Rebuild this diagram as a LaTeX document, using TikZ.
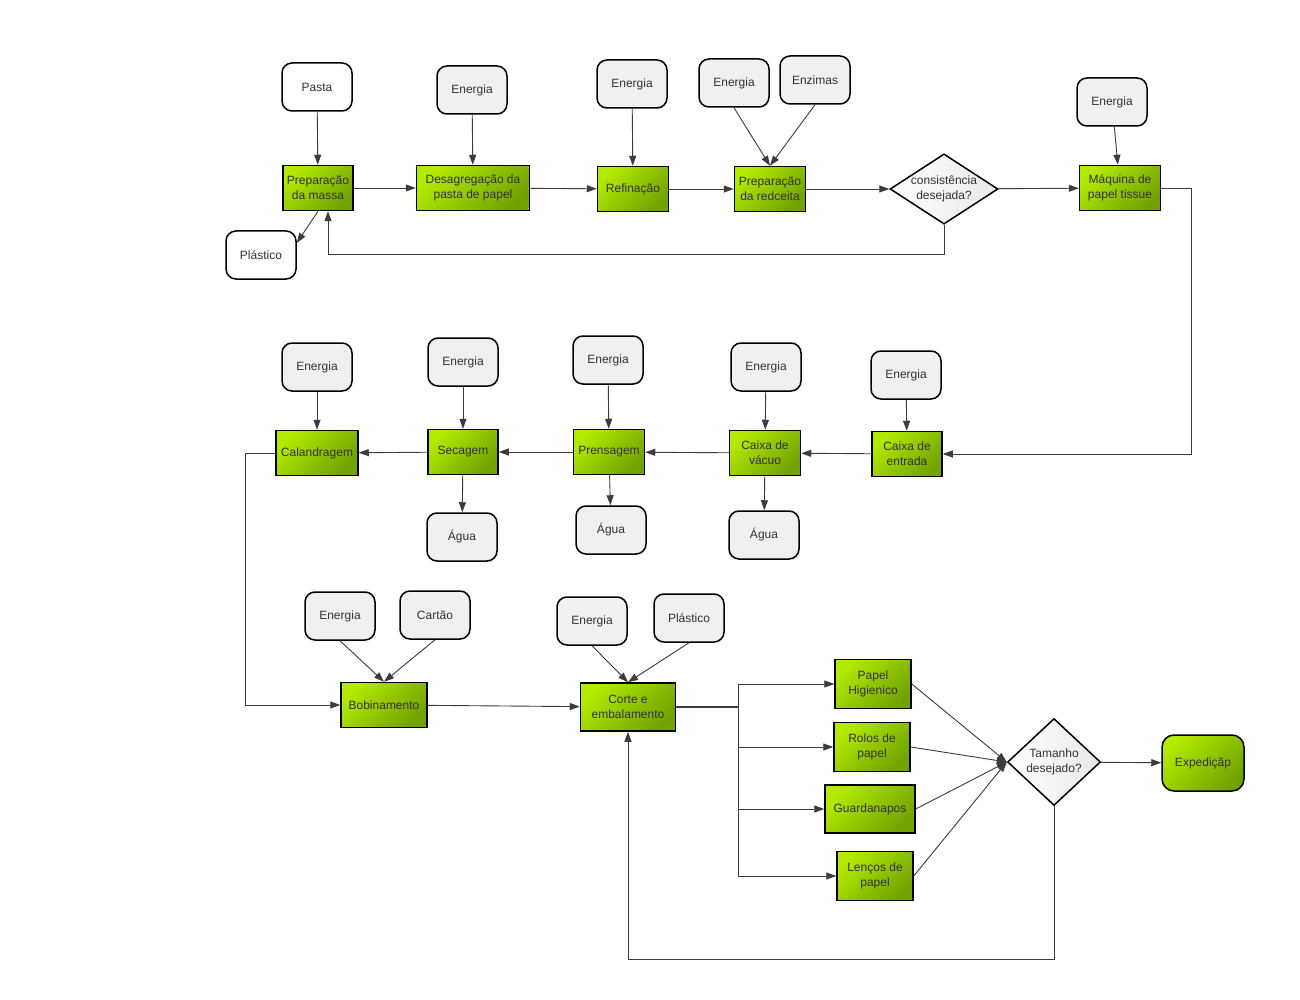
\documentclass[tikz,border=0pt]{standalone}
\usepackage{fontspec}
\setsansfont{Liberation Sans}
\usetikzlibrary{arrows.meta, shapes.geometric}
\definecolor{procLight}{RGB}{178,234,0}
\definecolor{procDark}{RGB}{114,162,0}
\definecolor{inGray}{RGB}{240,240,240}
\definecolor{txtGray}{RGB}{51,51,51}
\definecolor{lineGray}{RGB}{60,60,60}
\tikzset{
proc/.style={draw=black, line width=1.5pt, left color=procLight, right color=procDark, shading angle=45,
  text=txtGray, align=center, inner sep=1pt, minimum height=45pt},
inp/.style={draw=black, line width=1.5pt, rounded corners=10pt, fill=inGray, text=txtGray,
  minimum width=70pt, minimum height=48pt},
inpw/.style={inp, fill=white},
decis/.style={diamond, draw=black, line width=1.5pt, left color=white, right color=gray!18,
  text=txtGray, align=center, inner sep=0pt},
link/.style={draw=lineGray, line width=0.9pt},
flow/.style={link, -{Triangle[length=10pt,width=7pt]}}
}

\begin{document}
\begin{tikzpicture}[x=1pt, y=-1pt, font=\sffamily\fontsize{12}{15}\selectfont]
	\path[fill=white, use as bounding box] (0,0) rectangle (1300,1000);
	\node[inpw] (pasta) at (317,87) {Pasta};
	\node[inp] (en1) at (472,90) {Energia};
	\node[proc, minimum width=70pt] (prepm) at (318,188) {Preparação\\da massa};
	\node[inpw] (plast1) at (261,255) {Plástico};
	\node[proc, minimum width=113pt] (desag) at (473,188) {Desagregação da\\pasta de papel};
	\node[inp] (en2) at (632,84) {Energia};
	\node[proc, minimum width=71pt] (refin) at (633,189) {Refinação};
	\node[inp] (en3) at (734,83) {Energia};
	\node[inp] (enz) at (815,80) {Enzimas};
	\node[proc, minimum width=71pt] (prepr) at (770,189) {Preparação\\da redceita};
	\node[decis, minimum width=108pt, minimum height=70pt, aspect=1.5] (cons) at (944,189) {consistência\\desejada?};
	\node[inp] (en4) at (1112,102) {Energia};
	\node[proc, minimum width=81pt] (maq) at (1120,188) {Máquina de\\papel tissue};

	\node[inp] (en5) at (317,367) {Energia};
	\node[proc, minimum width=82pt] (cal) at (317,453) {Calandragem};
	\node[inp] (en6) at (463,362) {Energia};
	\node[proc, minimum width=70pt] (sec) at (463,452) {Secagem};
	\node[inp] (ag1) at (462,537) {Água};
	\node[inp] (en7) at (608,360) {Energia};
	\node[proc, minimum width=71pt] (prens) at (609,452) {Prensagem};
	\node[inp] (ag2) at (611,530) {Água};
	\node[inp] (en8) at (766,367) {Energia};
	\node[proc, minimum width=71pt] (vac) at (765,453) {Caixa de\\vácuo};
	\node[inp] (ag3) at (764,535) {Água};
	\node[inp] (en9) at (906,375) {Energia};
	\node[proc, minimum width=70pt] (entr) at (907,454) {Caixa de\\entrada};

	\node[inp] (en10) at (340,616) {Energia};
	\node[inp] (cart) at (435,615) {Cartão};
	\node[proc, minimum width=86pt] (bob) at (384,705) {Bobinamento};
	\node[inp] (en11) at (592,621) {Energia};
	\node[inp] (plast2) at (689,618) {Plástico};
	\node[proc, minimum width=95pt, minimum height=48pt] (corte) at (628,707) {Corte e\\embalamento};
	\node[proc, minimum width=76pt, minimum height=49pt] (papel) at (873,684) {Papel\\Higienico};
	\node[proc, minimum width=76pt, minimum height=49pt] (rolos) at (872,747) {Rolos de\\papel};
	\node[proc, minimum width=90pt, minimum height=48pt] (guard) at (870,809) {Guardanapos};
	\node[proc, minimum width=76pt, minimum height=49pt] (lenc) at (875,876) {Lenços de\\papel};
	\node[decis, minimum width=93pt, minimum height=87pt] (tam) at (1054,762) {Tamanho\\desejado?};
	\node[proc, rounded corners=12pt, minimum width=82pt, minimum height=56pt] (exped) at (1203,763) {Expediçãp};

	\draw[flow] (pasta) -- (prepm);
	\draw[flow] (prepm.south) -- ([yshift=12pt]plast1.east);
	\draw[flow] (prepm) -- (desag);
	\draw[flow] (en1) -- (desag);
	\draw[flow] (desag) -- (refin);
	\draw[flow] (en2) -- (refin);
	\draw[flow] (refin) -- (prepr);
	\draw[flow] (en3.south) -- (prepr.north);
	\draw[flow] (enz.south) -- (prepr.north);
	\draw[flow] (prepr) -- (cons);
	\draw[flow] (cons) -- (maq);
	\draw[flow] (en4) -- (maq);
	\draw[flow] (cons.south) -- ++(0,30) -| ([xshift=10pt]prepm.south);
	\draw[flow] (maq.east) -- ++(30,0) |- (entr.east);

	\draw[flow] (en9) -- (entr);
	\draw[flow] (entr) -- (vac);
	\draw[flow] (en8) -- (vac);
	\draw[flow] (vac) -- (ag3);
	\draw[flow] (vac) -- (prens);
	\draw[flow] (en7) -- (prens);
	\draw[flow] (prens) -- (ag2);
	\draw[flow] (prens) -- (sec);
	\draw[flow] (en6) -- (sec);
	\draw[flow] (sec) -- (ag1);
	\draw[flow] (sec) -- (cal);
	\draw[flow] (en5) -- (cal);
	\draw[flow] (cal.west) -- ++(-30,0) |- (bob.west);

	\draw[flow] (en10.south) -- (bob.north);
	\draw[flow] (cart.south) -- (bob.north);
	\draw[flow] (bob) -- (corte);
	\draw[flow] (en11.south) -- (corte.north);
	\draw[flow] (plast2.south) -- (corte.north);
	\draw[link, line width=1.3pt] (corte.east) -- ++(62,0) coordinate (split);
	\draw[flow] (split) |- (papel.west);
	\draw[flow] (split) |- (rolos.west);
	\draw[flow] (split) |- (guard.west);
	\draw[flow] (split) |- (lenc.west);
	\draw[flow] (papel.east) -- (tam.west);
	\draw[flow] (rolos.east) -- (tam.west);
	\draw[flow] (guard.east) -- (tam.west);
	\draw[flow] (lenc.east) -- (tam.west);
	\draw[flow] (tam) -- (exped);
	\draw[flow] (tam.south) -- ++(0,153) -| (corte.south);
\end{tikzpicture}
\end{document}
